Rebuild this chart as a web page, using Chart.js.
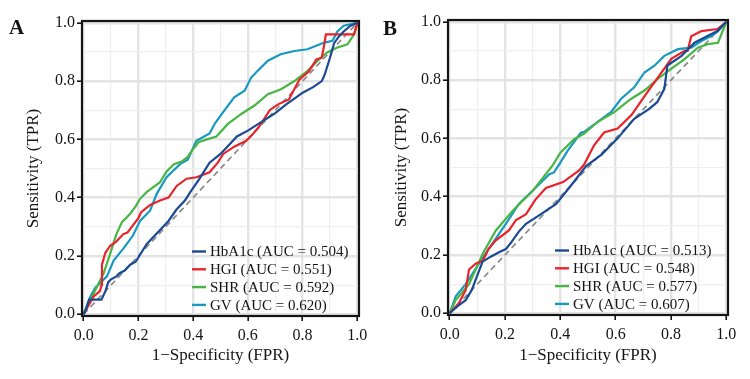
<!DOCTYPE html>
<html>
<head>
<meta charset="utf-8">
<script src="https://cdn.jsdelivr.net/npm/chart.js@4.4.1/dist/chart.umd.min.js"></script>
<style>
  body { margin: 0; background: #fff; }
  .panel { position: absolute; top: 0; width: 375px; height: 379px; }
</style>
</head>
<body>
<div class="panel" style="left:0"><canvas id="chartA" width="375" height="379"></canvas></div>
<div class="panel" style="left:375px"><canvas id="chartB" width="375" height="379"></canvas></div>
<script>
// axis ticks (0.1 steps, labels only on the 0.2 ones)
const TICKS = [0, 0.1, 0.2, 0.3, 0.4, 0.5, 0.6, 0.7, 0.8, 0.9, 1.0];

const SERIES = ['HbA1c', 'HGI', 'SHR', 'GV'];
const AUC_A = ['0.504', '0.551', '0.592', '0.620'];
const AUC_B = ['0.513', '0.548', '0.577', '0.607'];
const COLORS = ['#1c4a92', '#e8232a', '#48b545', '#1899bf'];

const DIAG = [[0, 0], [1, 1]];

// panel A, [FPR, TPR]
const A_HBA1C = [[0,0],[0.01,0.02],[0.02,0.05],[0.04,0.05],[0.065,0.05],[0.08,0.08],[0.09,0.11],[0.1,0.12],[0.12,0.13],[0.13,0.14],[0.15,0.15],[0.17,0.17],[0.19,0.18],[0.21,0.21],[0.23,0.24],[0.26,0.27],[0.28,0.29],[0.31,0.32],[0.34,0.36],[0.37,0.39],[0.39,0.42],[0.42,0.46],[0.44,0.49],[0.46,0.52],[0.5,0.55],[0.53,0.58],[0.56,0.61],[0.6,0.63],[0.65,0.66],[0.7,0.69],[0.74,0.72],[0.77,0.74],[0.8,0.76],[0.84,0.78],[0.87,0.8],[0.88,0.82],[0.9,0.88],[0.915,0.93],[0.93,0.95],[0.95,0.97],[0.975,0.99],[1,1]];
const A_HGI = [[0,0],[0.018,0.03],[0.036,0.06],[0.06,0.08],[0.065,0.1],[0.067,0.17],[0.079,0.21],[0.097,0.235],[0.12,0.25],[0.145,0.275],[0.16,0.28],[0.18,0.305],[0.2,0.33],[0.21,0.35],[0.243,0.375],[0.279,0.39],[0.31,0.4],[0.34,0.44],[0.376,0.465],[0.412,0.47],[0.46,0.487],[0.49,0.52],[0.51,0.55],[0.55,0.575],[0.594,0.595],[0.62,0.62],[0.643,0.646],[0.68,0.7],[0.71,0.72],[0.75,0.737],[0.788,0.805],[0.824,0.834],[0.85,0.874],[0.87,0.88],[0.88,0.93],[0.885,0.96],[0.95,0.96],[0.988,0.96],[1,1]];
const A_SHR = [[0,0],[0.006,0.015],[0.036,0.07],[0.073,0.14],[0.097,0.208],[0.12,0.276],[0.14,0.316],[0.17,0.345],[0.19,0.37],[0.206,0.396],[0.23,0.419],[0.279,0.453],[0.303,0.49],[0.33,0.515],[0.36,0.525],[0.38,0.54],[0.4,0.567],[0.42,0.59],[0.45,0.6],[0.485,0.61],[0.527,0.653],[0.576,0.687],[0.624,0.716],[0.673,0.755],[0.721,0.772],[0.77,0.8],[0.818,0.835],[0.855,0.87],[0.89,0.898],[0.927,0.915],[0.964,0.926],[0.988,0.96],[1,1]];
const A_GV = [[0,0],[0.024,0.06],[0.042,0.09],[0.085,0.13],[0.11,0.185],[0.145,0.225],[0.18,0.27],[0.206,0.32],[0.243,0.356],[0.267,0.413],[0.303,0.47],[0.352,0.515],[0.38,0.53],[0.395,0.56],[0.412,0.595],[0.46,0.62],[0.48,0.655],[0.515,0.7],[0.55,0.744],[0.588,0.767],[0.612,0.812],[0.636,0.835],[0.673,0.87],[0.72,0.892],[0.77,0.903],[0.818,0.909],[0.879,0.932],[0.909,0.938],[0.927,0.97],[0.95,0.99],[1,1]];

// panel B
const B_HBA1C = [[0,0],[0.03,0.025],[0.058,0.045],[0.08,0.08],[0.1,0.13],[0.119,0.177],[0.15,0.195],[0.18,0.21],[0.203,0.22],[0.22,0.24],[0.25,0.28],[0.276,0.307],[0.33,0.34],[0.385,0.375],[0.44,0.44],[0.493,0.505],[0.55,0.545],[0.607,0.6],[0.667,0.667],[0.72,0.7],[0.75,0.724],[0.776,0.77],[0.787,0.85],[0.838,0.883],[0.885,0.928],[0.93,0.95],[0.968,0.968],[1,1]];
const B_HGI = [[0,0],[0.033,0.034],[0.058,0.08],[0.07,0.15],[0.094,0.17],[0.12,0.18],[0.14,0.22],[0.167,0.25],[0.214,0.284],[0.24,0.32],[0.276,0.34],[0.31,0.39],[0.348,0.43],[0.41,0.45],[0.468,0.49],[0.486,0.51],[0.522,0.576],[0.558,0.62],[0.607,0.634],[0.657,0.68],[0.714,0.758],[0.766,0.826],[0.801,0.873],[0.849,0.9],[0.86,0.9],[0.873,0.95],[0.91,0.968],[0.968,0.975],[1,1]];
const B_SHR = [[0,0],[0.022,0.045],[0.07,0.1],[0.12,0.205],[0.167,0.284],[0.228,0.352],[0.3,0.42],[0.374,0.51],[0.4,0.551],[0.45,0.597],[0.486,0.616],[0.534,0.656],[0.595,0.69],[0.655,0.735],[0.704,0.764],[0.752,0.804],[0.8,0.838],[0.849,0.872],[0.897,0.911],[0.933,0.923],[0.97,0.928],[1,1]];
const B_GV = [[0,0],[0.022,0.058],[0.058,0.1],[0.106,0.17],[0.155,0.24],[0.203,0.307],[0.25,0.375],[0.3,0.42],[0.36,0.477],[0.377,0.483],[0.4,0.517],[0.426,0.557],[0.474,0.619],[0.486,0.622],[0.534,0.656],[0.583,0.69],[0.619,0.735],[0.667,0.775],[0.704,0.826],[0.74,0.849],[0.776,0.883],[0.825,0.906],[0.873,0.911],[0.91,0.934],[0.946,0.951],[0.97,0.968],[1,1]];

const FONT = 'Liberation Serif, Times New Roman, serif';
const INK = '#141414';
const isMajor = v => Math.round(v * 10) % 2 === 0;

// border box round the plot area
const frame = {
  id: 'frame',
  afterDatasetsDraw(chart) {
    const { ctx, chartArea: a } = chart;
    ctx.save();
    ctx.strokeStyle = INK;
    ctx.lineWidth = 2.2;
    ctx.strokeRect(a.left, a.top, a.right - a.left, a.bottom - a.top);
    ctx.restore();
  }
};

// legend inside the plot + panel letter
const extras = {
  id: 'extras',
  afterDraw(chart, args, opts) {
    const ctx = chart.ctx;
    ctx.save();
    ctx.fillStyle = INK;
    ctx.font = 'bold 21px ' + FONT;
    ctx.textBaseline = 'alphabetic';
    ctx.fillText(opts.letter, opts.letterX, opts.letterY);

    ctx.font = '15px ' + FONT;
    ctx.textBaseline = 'middle';
    let row = 0;
    chart.data.datasets.forEach(ds => {
      if (!ds.label) return;
      const y = opts.legendY + row * opts.rowH;
      ctx.strokeStyle = ds.borderColor;
      ctx.lineWidth = 2.4;
      ctx.beginPath();
      ctx.moveTo(opts.legendX, y);
      ctx.lineTo(opts.legendX + 14, y);
      ctx.stroke();
      ctx.fillStyle = INK;
      ctx.fillText(ds.label, opts.legendX + 18, y + 1);
      row++;
    });
    ctx.restore();
  }
};

function axis(horizontal, title, size, titlePad, tickPad) {
  return {
    type: 'linear',
    min: -0.006,
    max: 1.006,
    afterBuildTicks: s => { s.ticks = TICKS.map(v => ({ value: v })); },
    afterFit: s => { if (horizontal) s.height = size; else s.width = size; },
    border: { display: false },
    grid: {
      color: c => (c.tick && isMajor(c.tick.value)) ? '#e3e3e3' : '#efefef',
      lineWidth: c => (c.tick && isMajor(c.tick.value)) ? 2.4 : 1.2,
      tickColor: c => (c.tick && isMajor(c.tick.value)) ? INK : 'rgba(0,0,0,0)',
      tickWidth: 1.6,
      tickLength: 5
    },
    ticks: {
      autoSkip: false,
      maxRotation: 0,
      padding: tickPad,
      color: INK,
      font: { family: FONT, size: 16 },
      callback: v => isMajor(v) ? v.toFixed(1) : ''
    },
    title: {
      display: true,
      text: title,
      color: INK,
      font: { family: FONT, size: 17 },
      padding: horizontal ? { top: 0, bottom: titlePad } : { top: titlePad, bottom: 0 }
    }
  };
}

function makePanel(id, curves, aucs, cfg) {
  const datasets = curves.map((pts, i) => ({
    label: SERIES[i] + ' (AUC = ' + aucs[i] + ')',
    data: pts.map(p => ({ x: p[0], y: p[1] })),
    borderColor: COLORS[i],
    borderWidth: 2.2,
    pointRadius: 0,
    tension: 0,
    clip: 4
  }));
  datasets.push({
    label: '',
    data: DIAG.map(p => ({ x: p[0], y: p[1] })),
    borderColor: '#8a8a8a',
    borderWidth: 1.7,
    borderDash: [6, 4],
    pointRadius: 0,
    clip: 4
  });

  return new Chart(document.getElementById(id), {
    type: 'line',
    data: { datasets },
    options: {
      responsive: false,
      animation: false,
      layout: { padding: cfg.padding },
      scales: {
        x: axis(true, '1\u2212Specificity (FPR)', cfg.xHeight, 13, 5),
        y: axis(false, 'Sensitivity (TPR)', cfg.yWidth, cfg.yTitlePad, 2)
      },
      plugins: {
        legend: { display: false },
        tooltip: { enabled: false },
        extras: cfg.extras
      }
    },
    plugins: [frame, extras]
  });
}

makePanel('chartA', [A_HBA1C, A_HGI, A_SHR, A_GV], AUC_A, {
  padding: { left: 0, top: 21, right: 16, bottom: 0 },
  yWidth: 82, xHeight: 63, yTitlePad: 23,
  extras: { letter: 'A', letterX: 9, letterY: 34, legendX: 192, legendY: 251.5, rowH: 17.8 }
});

makePanel('chartB', [B_HBA1C, B_HGI, B_SHR, B_GV], AUC_B, {
  padding: { left: 0, top: 20, right: 22, bottom: 0 },
  yWidth: 73, xHeight: 64, yTitlePad: 16,
  extras: { letter: 'B', letterX: 8, letterY: 35, legendX: 180, legendY: 250.5, rowH: 17.8 }
});
</script>
</body>
</html>
